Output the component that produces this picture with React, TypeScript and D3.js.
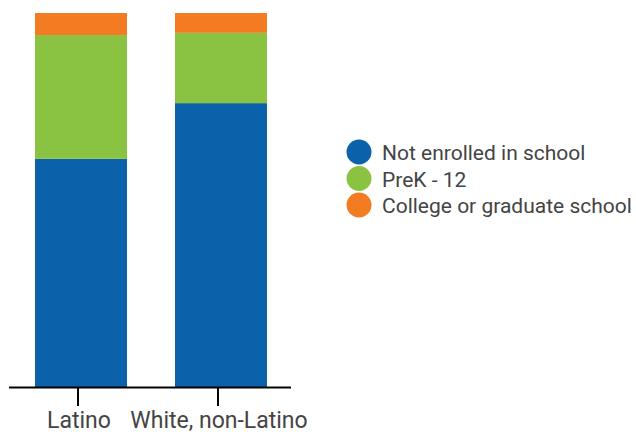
import React from "react";
import * as d3 from "d3";

const categories = ["Latino", "White, non-Latino"];
const seriesNames = ["Not enrolled in school", "PreK - 12", "College or graduate school"];
const notEnrolled = [61.0, 75.9];
const preK12 = [33.1, 18.8];
const college = [5.9, 5.3];
const colors = ["#0b62aa", "#89c341", "#f37b22"];

export default function App() {
  const W = 636, H = 432;
  const x = d3.scaleBand().domain(categories).range([35, 267]).paddingInner(48 / 140).paddingOuter(0);
  const y = d3.scaleLinear().domain([0, 100]).range([387, 13]);
  const rows = categories.map((c, i) => ({ cat: c, a: notEnrolled[i], b: preK12[i], c: college[i] }));
  const stack = d3.stack<any>().keys(["a", "b", "c"])(rows);
  const font = "Roboto, 'Noto Sans', sans-serif";
  return (
    <svg width={W} height={H} style={{ position: "absolute", left: 0, top: 0 }}>
      {stack.map((s, si) =>
        s.map((d, di) => (
          <rect key={si + "-" + di} x={x(categories[di])} width={x.bandwidth()}
            y={y(d[1])} height={y(d[0]) - y(d[1])} fill={colors[si]} />
        ))
      )}
      <line x1={9} x2={291} y1={387.5} y2={387.5} stroke="#000" strokeWidth={2} />
      {categories.map((c) => {
        const cx = (x(c) as number) + x.bandwidth() / 2 - 3;
        return (
          <g key={c}>
            <line x1={cx} x2={cx} y1={387} y2={406} stroke="#000" strokeWidth={2} />
            <text x={cx + 1} y={428} textAnchor="middle" fontFamily={font} fontSize={23} fill="#444">{c}</text>
          </g>
        );
      })}
      {seriesNames.map((n, i) => (
        <g key={n} transform={`translate(359,${152 + i * 26.5})`}>
          <circle r={12.5} fill={colors[i]} />
          <text x={23} y={8} fontFamily={font} fontSize={21} fill="#444">{n}</text>
        </g>
      ))}
    </svg>
  );
}
